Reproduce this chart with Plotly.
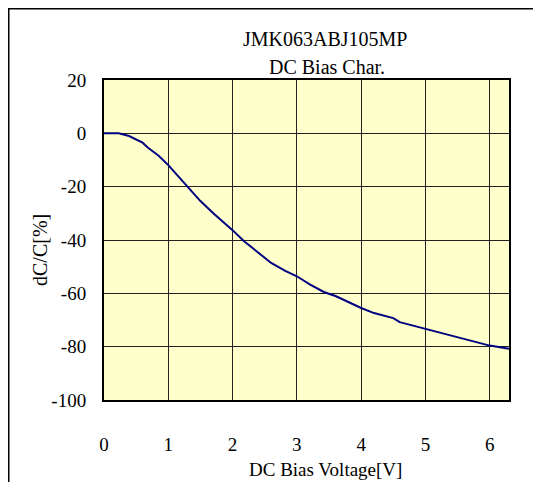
import plotly.graph_objects as go

voltage = [0.0, 0.23, 0.39, 0.60, 0.68, 0.85, 1.0, 1.22, 1.32, 1.5, 1.7, 2.0, 2.17, 2.35, 2.6,
           2.82, 3.0, 3.2, 3.42, 3.61, 3.85, 4.0, 4.2, 4.5, 4.6, 5.0, 5.34, 5.66, 6.0, 6.3]
dcc = [0.0, 0.0, -1.0, -3.5, -5.3, -8.4, -11.9, -17.9, -20.6, -25.4, -30.0, -36.3, -40.3, -43.8, -48.6,
       -51.6, -53.6, -56.6, -59.5, -61.1, -63.8, -65.5, -67.4, -69.3, -70.8, -73.3, -75.5, -77.7, -79.6, -80.8]

title_lines = ["JMK063ABJ105MP", "DC Bias Char."]
x_title = "DC Bias Voltage[V]"
y_title = "dC/C[%]"
x_ticks = [0, 1, 2, 3, 4, 5, 6]
x_ticktext = ["0", "1", "2", "3", "4", "5", "6"]
y_ticks = [-100, -80, -60, -40, -20, 0, 20]
y_ticktext = ["-100", "-80", "-60", "-40", "-20", "0", "20"]

FONT = "Liberation Serif, Times New Roman, serif"

fig = go.Figure()
fig.add_trace(go.Scatter(x=voltage, y=dcc, mode="lines",
                         line=dict(color="#000080", width=2), showlegend=False,
                         hoverinfo="skip"))

# page has an 8px body margin; the figure is laid out in its own pixels
OFF = 8
W, H = 533, 474
L, R, T, B = 96, 32, 72, 82
pw, ph = W - L - R, H - T - B

def px_to_paper_x(page_px):
    return (page_px - OFF - L) / pw

def px_to_paper_y(page_py):
    return (H - B - (page_py - OFF)) / ph

fig.update_layout(
    width=W, height=H,
    margin=dict(l=L, r=R, t=T, b=B, autoexpand=False),
    paper_bgcolor="white",
    plot_bgcolor="#FFFFCC",
    font=dict(family=FONT, size=19, color="black"),
    xaxis=dict(range=[0, 6.3], tickvals=x_ticks, ticktext=x_ticktext, ticks="", showgrid=True,
               gridcolor="#222222", gridwidth=1, showline=True, linecolor="black",
               linewidth=2, mirror=True, zeroline=False, ticklabelstandoff=26),
    yaxis=dict(range=[-100, 20], tickvals=y_ticks, ticktext=y_ticktext, ticks="", showgrid=True,
               gridcolor="#222222", gridwidth=1, showline=True, linecolor="black",
               linewidth=2, mirror=True, zeroline=False, ticklabelstandoff=12),
    annotations=[
        dict(text=title_lines[0], x=px_to_paper_x(325), y=px_to_paper_y(39), xref="paper", yref="paper",
             showarrow=False, xanchor="center", yanchor="middle", font=dict(size=20)),
        dict(text=title_lines[1], x=px_to_paper_x(327), y=px_to_paper_y(67), xref="paper", yref="paper",
             showarrow=False, xanchor="center", yanchor="middle", font=dict(size=20)),
        dict(text=x_title, x=px_to_paper_x(325), y=px_to_paper_y(469), xref="paper", yref="paper",
             showarrow=False, xanchor="center", yanchor="middle", font=dict(size=19)),
        dict(text=y_title, x=px_to_paper_x(40), y=px_to_paper_y(250), xref="paper", yref="paper",
             showarrow=False, xanchor="center", yanchor="middle", textangle=-90, font=dict(size=20)),
    ],
    shapes=[
        dict(type="rect", xref="paper", yref="paper",
             x0=px_to_paper_x(8.5), x1=px_to_paper_x(600),
             y0=px_to_paper_y(560), y1=px_to_paper_y(8.5),
             line=dict(color="black", width=2), layer="below"),
    ],
)

fig.write_html("out.html")
